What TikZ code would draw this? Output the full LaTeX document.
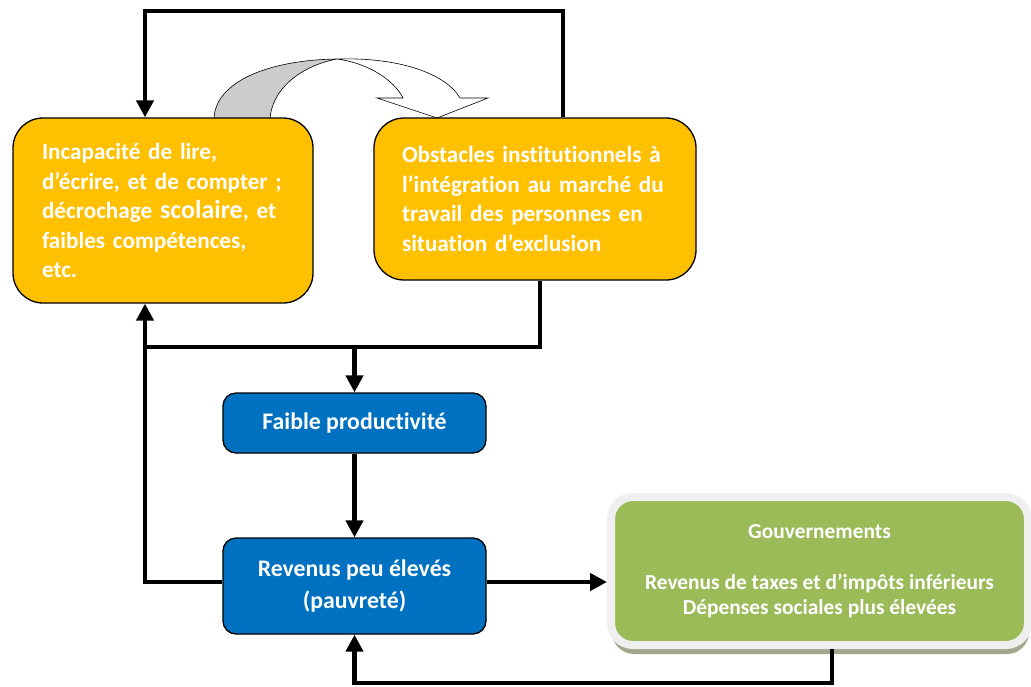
\documentclass[tikz,border=0pt]{standalone}
\usepackage{fontspec}
\setmainfont{Carlito}[Ligatures=NoCommon]
\usetikzlibrary{arrows.meta,shadows}
\definecolor{orangebox}{HTML}{FFC000}
\definecolor{bluebox}{HTML}{0070C0}
\definecolor{greenbox}{HTML}{9BBB59}
\definecolor{framegray}{HTML}{EFEFEF}
\definecolor{shadowgreen}{HTML}{A2A890}
\definecolor{foldgray}{HTML}{CCCCCC}
\tikzset{
  obox/.style={draw=black, line width=1.3pt, fill=orangebox, rounded corners=30pt,
    text=white, font=\bfseries\fontsize{23.2}{29.5}\selectfont, align=left, anchor=center},
  bbox/.style={draw=black, line width=1.3pt, fill=bluebox, rounded corners=13pt,
    text=white, font=\bfseries\fontsize{23.8}{32}\selectfont, align=center},
  gbox/.style={draw=framegray, line width=8pt, fill=greenbox, rounded corners=22pt,
    text=white, font=\bfseries\fontsize{21.4}{25.5}\selectfont, align=center,
    drop shadow={shadow xshift=1pt, shadow yshift=-9pt, fill=shadowgreen, opacity=1}},
  conn/.style={draw=black, line width=4.5pt},
  tip/.style={-{Triangle[length=17pt,width=17pt]}}
}
\begin{document}
\begin{tikzpicture}[x=1pt,y=-1pt]
\useasboundingbox (0,0) rectangle (1031,686);
% curved block arrow
\filldraw[fill=foldgray, draw=black, line width=0.6pt]
  (214,120) .. controls (214,82) and (268,60) .. (337,59)
  .. controls (300,66) and (271,90) .. (270,120) -- cycle;
\filldraw[fill=white, draw=black, line width=0.6pt]
  (337,59) .. controls (368,63) and (394,80) .. (403,98)
  -- (377,98) -- (437,118) -- (488,98) -- (460,98)
  .. controls (446,74) and (400,57) .. (337,59) -- cycle;
% boxes
\node[obox, minimum width=300pt, minimum height=185pt, text width=242pt, inner xsep=29pt]
  (lbox) at (163,210.5) {Incapacité de lire,\\d’écrire, et de compter ;\\décrochage {\fontsize{26}{29.5}\selectfont scolaire}, et\\faibles compétences,\\etc.};
\node[obox, minimum width=322pt, minimum height=162pt, text width=266pt, inner xsep=28pt]
  (rbox) at (535,199) {Obstacles institutionnels à\\l’intégration au marché du\\travail des personnes en\\situation d’exclusion};
\node[bbox, minimum width=263pt, minimum height=60pt] (fbox) at (354.5,423) {Faible productivité};
\node[bbox, minimum width=263pt, minimum height=96pt] (rev) at (354.5,586) {Revenus peu élevés\\(pauvreté)};
\node[gbox, minimum width=417pt, minimum height=148pt] (gov) at (819.5,571)
  {Gouvernements\\[25.5pt]Revenus de taxes et d’impôts inférieurs\\Dépenses sociales plus élevées};
% coordinates
\coordinate (tr) at (563,11);
\coordinate (tl) at (145,11);
\coordinate (jl) at (145,347);
\coordinate (jr) at (540,347);
\coordinate (br) at (832,683);
% connectors
\draw[conn, tip] (rbox.north -| tr) -- (tr) -- (tl) -- (lbox.north -| tl);
\draw[conn, tip] ([yshift=4pt]rev.west) -| (lbox.south -| tl);
\draw[conn] (rbox.south -| jr) -- (jr) -- (jl);
\draw[conn, tip] (fbox.north |- jr) -- (fbox.north);
\draw[conn, tip] (fbox.south) -- (rev.north);
\draw[conn, tip] ([yshift=4pt]rev.east) -- ([yshift=4pt]rev.east -| gov.west);
\draw[conn, tip] (gov.south -| br) -- (br) -| (rev.south);
\end{tikzpicture}
\end{document}
